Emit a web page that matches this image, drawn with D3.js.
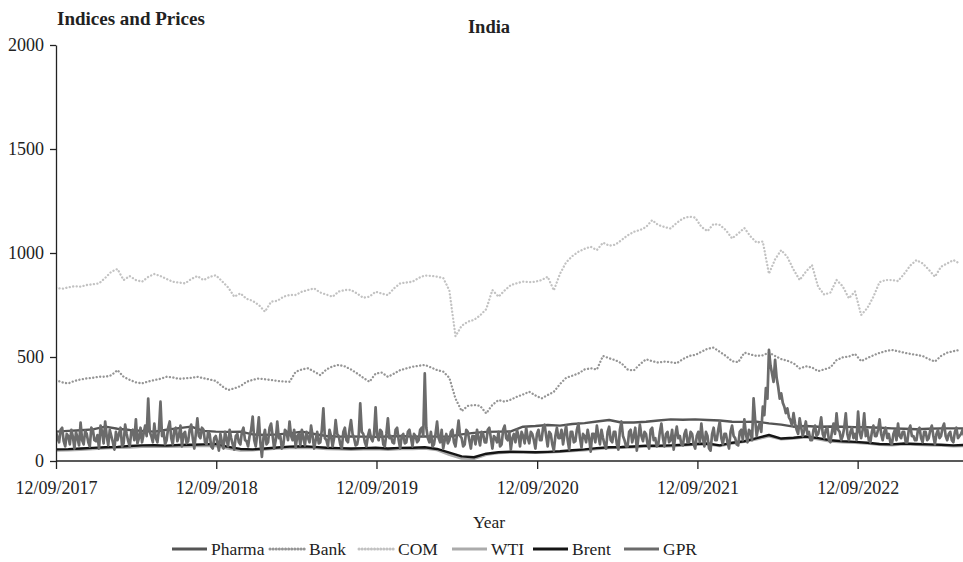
<!DOCTYPE html>
<html><head><meta charset="utf-8">
<script src="https://cdn.jsdelivr.net/npm/d3@7"></script>
<style>
html,body{margin:0;padding:0;background:#fff;}
svg{display:block;font-family:"Liberation Serif","DejaVu Serif",serif;}
</style></head>
<body>
<svg id="chart" width="963" height="562"></svg>
<script>
// ---------- DATA ----------
const startDate = "2017-09-12";
const endDate = "2023-05-10";
const xTickLabels = ["12/09/2017","12/09/2018","12/09/2019","12/09/2020","12/09/2021","12/09/2022"];
const yTicks = [0, 500, 1000, 1500, 2000];
const seriesNames = ["Pharma","Bank","COM","WTI","Brent","GPR"];

// Days between consecutive observations of each series
const stepDays = {Pharma: 28, Bank: 14, COM: 14, WTI: 28, Brent: 28, GPR: 3.5};

const pharma = [141,145,148,152,165,155,149,145,141,150,158,165,145,141,140,141,128,125,128,133,
141,130,120,117,118,117,116,118,120,117,118,117,118,128,135,140,141,142,165,168,
173,170,178,182,190,197,185,185,189,195,200,198,200,197,195,189,188,189,181,175,
165,168,165,166,165,163,162,160,157,155,153,155,157,157,157];

const bank = [389,378,373,385,392,397,400,405,405,412,437,405,390,378,373,382,389,395,405,402,
395,397,400,405,398,392,385,360,341,349,360,381,390,397,393,389,385,382,381,429,
440,446,430,413,440,455,462,455,440,421,400,381,420,425,405,420,437,445,453,458,
462,450,437,430,400,300,240,265,269,265,229,270,293,285,295,309,320,333,315,301,
317,333,370,400,410,421,440,446,440,505,494,485,470,440,435,465,489,480,473,478,
475,470,490,505,510,525,540,545,525,505,480,475,521,512,505,508,521,505,490,482,
470,445,455,450,432,440,450,485,498,502,515,480,495,508,520,528,534,528,521,515,
510,505,490,478,505,521,528,534];

const com = [833,828,835,840,838,846,850,854,880,910,923,870,889,870,862,885,899,889,875,862,
858,854,875,889,870,885,893,865,835,790,806,780,770,750,718,766,770,790,798,798,
814,822,830,810,800,790,815,822,822,805,785,790,814,805,798,830,854,858,862,880,
892,890,886,880,820,600,650,670,678,700,730,822,790,820,846,855,862,860,862,870,
886,820,900,955,985,1006,1020,1030,1014,1050,1035,1040,1062,1085,1102,1110,1125,1158,1134,1125,
1118,1145,1166,1175,1170,1126,1105,1140,1135,1110,1070,1094,1120,1080,1050,1055,900,970,1014,980,
920,870,910,942,838,800,810,870,840,782,815,702,735,790,860,870,870,865,900,940,
966,950,920,886,934,950,966,950];

const brent = [56,57,60,63,66,68,72,75,76,74,77,78,80,82,68,58,56,60,65,69,
71,68,64,62,60,62,64,60,63,64,66,58,40,22,18,35,42,45,44,42,
44,47,52,56,62,66,67,70,74,73,75,78,82,84,75,88,95,110,125,108,
112,118,110,100,95,92,88,82,80,84,82,80,78,75,77];

const wti = [50,51,54,57,61,63,65,68,70,68,70,71,73,72,60,50,52,55,60,62,
64,62,58,56,54,56,57,54,57,58,60,52,30,12,10,30,38,41,40,39,
41,44,48,52,58,62,63,66,70,69,71,74,79,80,72,84,92,104,118,104,
108,114,104,94,90,87,84,78,76,80,78,76,74,71,72];

const gpr = [
140,110,90,150,160,95,70,130,120,80,150,115,60,140,110,75,185,100,80,145,
130,90,70,160,150,100,95,125,60,170,140,85,190,120,75,150,120,90,55,140,
100,130,160,70,85,175,130,95,70,140,150,100,200,85,110,160,90,130,170,120,
300,140,120,90,180,110,90,150,285,120,140,80,100,160,190,110,80,150,160,95,
120,170,70,130,140,85,95,150,175,110,60,130,205,120,110,160,150,90,80,140,
130,70,60,110,
120,90,50,130,90,60,140,105,70,150,110,80,55,120,130,90,80,140,160,100,
95,70,120,150,213,100,70,130,210,90,20,110,150,80,90,160,180,120,60,100,
189,110,120,60,80,150,140,100,190,120,100,150,65,120,130,75,150,110,75,140,
110,90,170,120,60,100,140,85,90,150,253,110,100,70,150,120,70,110,197,130,
120,80,60,140,160,100,90,150,197,130,110,75,80,120,277,140,130,90,70,120,
150,110,95,130,
258,120,100,150,140,80,70,130,205,110,120,90,85,150,160,100,60,120,130,85,
90,140,150,110,70,130,120,90,100,150,160,120,421,160,110,90,140,70,80,130,
189,110,90,150,60,100,130,85,100,140,150,90,70,130,194,120,110,70,80,150,
140,100,60,120,120,80,150,110,75,140,130,90,90,150,160,110,60,120,110,90,
140,70,80,150,170,110,100,140,55,110,130,90,150,120,70,140,120,85,160,110,
85,140,130,100,
60,130,150,100,100,160,175,120,70,140,130,80,50,120,160,110,110,150,80,130,
170,100,55,140,140,90,95,150,180,110,65,130,120,90,150,110,45,130,130,90,
170,120,80,150,110,80,60,140,165,100,90,140,140,80,55,150,190,120,100,70,
70,140,150,90,120,160,50,110,175,120,95,140,130,80,60,150,160,100,110,70,
80,140,180,110,70,130,140,90,100,150,55,120,165,110,120,80,75,130,150,90,
90,140,130,80,
60,120,140,90,180,110,70,140,120,60,50,130,160,100,100,150,190,110,80,130,
130,90,60,140,170,120,110,80,75,140,150,100,200,130,90,150,140,100,301,200,
120,160,180,140,261,220,350,300,534,460,421,380,486,400,357,300,325,280,261,230,
253,210,197,170,230,180,150,130,205,160,120,150,190,130,140,100,100,150,170,120,
130,160,210,130,110,150,160,100,90,140,180,130,229,150,140,100,120,160,229,130,
100,140,160,110,
130,100,237,140,110,150,229,120,150,100,90,140,170,120,120,150,200,130,100,140,
160,110,130,90,80,130,150,100,180,120,110,140,140,90,90,150,170,120,120,100,
100,150,160,110,90,140,140,100,110,150,170,120,80,130,150,110,120,160,180,120,
100,130,140,100,90,140,160,110,120,130,150,120];

const seriesValues = {Pharma: pharma, Bank: bank, COM: com, WTI: wti, Brent: brent, GPR: gpr};

// ---------- STYLES ----------
const styles = {
  Pharma: {color:"#555555", width:2.4, dash:null},
  Bank:   {color:"#959595", width:2.3, dash:"0.1,3.4"},
  COM:    {color:"#c2c2c2", width:2.3, dash:"0.1,3.4"},
  WTI:    {color:"#ababab", width:2.4, dash:null},
  Brent:  {color:"#151515", width:2.4, dash:null},
  GPR:    {color:"#6b6b6b", width:2.7, dash:null}
};
const drawOrder = ["COM","Bank","Pharma","WTI","Brent","GPR"];

// ---------- CHART ----------
const svg = d3.select("#chart");
const parse = d3.timeParse("%Y-%m-%d");
const t0 = parse(startDate);
const x = d3.scaleTime().domain([t0, parse(endDate)]).range([56, 963]);
const y = d3.scaleLinear().domain([0, 2000]).range([461, 45]);
const dayMs = 86400000;

svg.append("defs").append("clipPath").attr("id","clip")
  .append("rect").attr("x",56).attr("y",0).attr("width",907).attr("height",470);

const g = svg.append("g").attr("clip-path","url(#clip)");
drawOrder.forEach(name => {
  const vals = seriesValues[name];
  const pts = vals.map((v,i) => ({date: new Date(t0.getTime() + i*stepDays[name]*dayMs), value: v}));
  const line = d3.line().x(d => x(d.date)).y(d => y(d.value));
  const st = styles[name];
  g.append("path").datum(pts)
    .attr("fill","none").attr("stroke",st.color).attr("stroke-width",st.width)
    .attr("stroke-linejoin","round").attr("stroke-linecap", st.dash ? "round" : "butt")
    .attr("stroke-dasharray", st.dash).attr("d", line);
});

// axes
const xTickDates = xTickLabels.map(s => d3.timeParse("%d/%m/%Y")(s));
const xAxis = d3.axisBottom(x).tickValues(xTickDates).tickFormat(d3.timeFormat("%d/%m/%Y"))
  .tickSize(8).tickSizeOuter(0);
const gx = svg.append("g").attr("transform","translate(0,461)").call(xAxis);
gx.select(".domain").attr("stroke","#222").attr("stroke-width",1.3).attr("d","M56,0H963");
gx.selectAll(".tick line").attr("stroke","#222").attr("stroke-width",1.3);
gx.selectAll(".tick text").attr("font-family","Liberation Serif, serif").attr("font-size",18)
  .attr("fill","#222").attr("dy","1.2em");

const yAxis = d3.axisLeft(y).tickValues(yTicks).tickFormat(d3.format("d")).tickSize(6).tickSizeOuter(0);
const gy = svg.append("g").attr("transform","translate(56,0)").call(yAxis);
gy.select(".domain").attr("stroke","#222").attr("stroke-width",1.3);
gy.selectAll(".tick line").attr("stroke","#222").attr("stroke-width",1.3);
gy.selectAll(".tick text").attr("font-family","Liberation Serif, serif").attr("font-size",18)
  .attr("fill","#222").attr("x",-12);

// titles
svg.append("text").attr("x",57).attr("y",25).attr("font-size",19).attr("font-weight","bold")
  .attr("fill","#222").text("Indices and Prices");
svg.append("text").attr("x",489).attr("y",33).attr("text-anchor","middle").attr("font-size",18.5)
  .attr("font-weight","bold").attr("fill","#222").text("India");
svg.append("text").attr("x",489).attr("y",528).attr("text-anchor","middle").attr("font-size",17.5)
  .attr("fill","#222").text("Year");

// legend
const legendX = {Pharma:172, Bank:270, COM:359, WTI:452, Brent:533, GPR:624};
const lg = svg.append("g");
seriesNames.forEach(name => {
  const st = styles[name];
  const lx = legendX[name];
  lg.append("line").attr("x1",lx).attr("x2",lx+35).attr("y1",549).attr("y2",549)
    .attr("stroke",st.color).attr("stroke-width",3)
    .attr("stroke-linecap", st.dash ? "round":"butt").attr("stroke-dasharray",st.dash ? "0.1,3" : null);
  lg.append("text").attr("x",lx+39).attr("y",555).attr("font-size",17.5).attr("fill","#222").text(name);
});
</script>
</body></html>
